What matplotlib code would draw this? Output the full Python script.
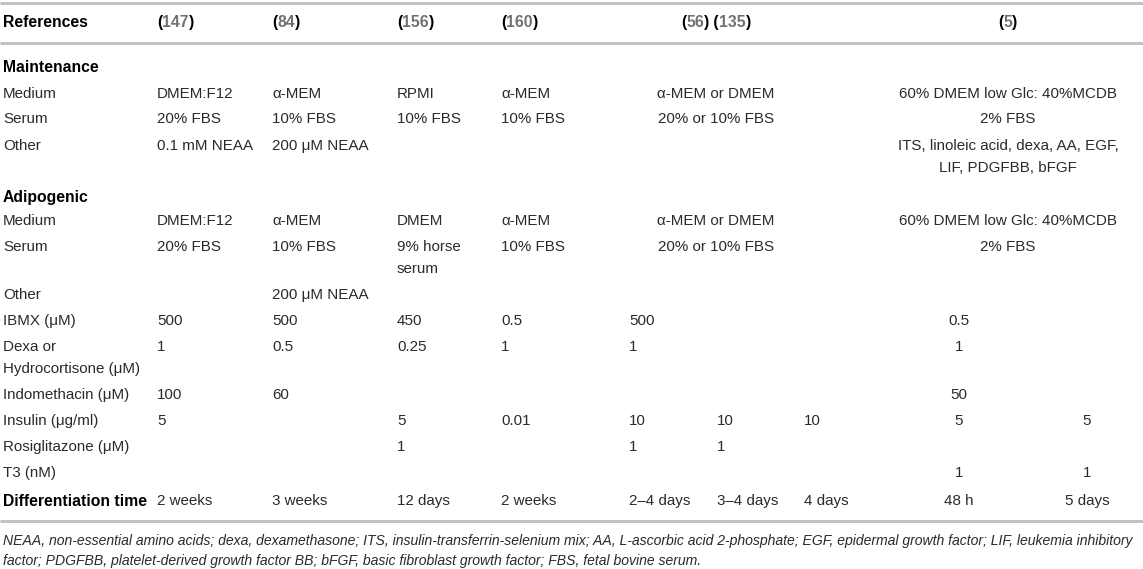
import matplotlib.pyplot as plt

# table content
refs = [["147"], ["84"], ["156"], ["160"], ["56", "135"], ["5"]]

maint_medium = ["DMEM:F12", "α-MEM", "RPMI", "α-MEM", "α-MEM or DMEM", "60% DMEM low Glc: 40%MCDB"]
maint_serum = ["20% FBS", "10% FBS", "10% FBS", "10% FBS", "20% or 10% FBS", "2% FBS"]
maint_other = ["0.1 mM NEAA", "200 μM NEAA", "", "", "", "ITS, linoleic acid, dexa, AA, EGF,\nLIF, PDGFBB, bFGF"]

adipo_medium = ["DMEM:F12", "α-MEM", "DMEM", "α-MEM", "α-MEM or DMEM", "60% DMEM low Glc: 40%MCDB"]
adipo_serum = ["20% FBS", "10% FBS", "9% horse\nserum", "10% FBS", "20% or 10% FBS", "2% FBS"]
adipo_other = ["", "200 μM NEAA", "", "", "", ""]

ibmx = ["500", "500", "450", "0.5", "500", "", "", "0.5", ""]
dexa = ["1", "0.5", "0.25", "1", "1", "", "", "1", ""]
indo = ["100", "60", "", "", "", "", "", "50", ""]
insulin = ["5", "", "5", "0.01", "10", "10", "10", "5", "5"]
rosi = ["", "", "1", "", "1", "1", "", "", ""]
t3 = ["", "", "", "", "", "", "", "1", "1"]
diff_time = ["2 weeks", "3 weeks", "12 days", "2 weeks", "2–4 days", "3–4 days", "4 days", "48 h", "5 days"]

footnote = ["NEAA, non-essential amino acids; dexa, dexamethasone; ITS, insulin-transferrin-selenium mix; "
            "AA, L-ascorbic acid 2-phosphate; EGF, epidermal growth factor; LIF, leukemia inhibitory",
            "factor; PDGFBB, platelet-derived growth factor BB; bFGF, basic fibroblast growth factor; "
            "FBS, fetal bovine serum."]

# layout (pixels)
W, H = 1143, 569
FS = 10.9
FSB = 11.3
TXT = "#2a2a2a"
REFC = "#707070"
LINEC = "#c2c2c2"
LX = 3
# 6 reference columns: (x, align)
gcols = [(157, "left"), (272, "left"), (397, "left"), (501, "left"), (716, "center"), (1008, "center")]
# 9 sub columns
scols = [(157, "left"), (272, "left"), (397, "left"), (501, "left"),
         (629, "left"), (717, "left"), (804, "left"), (959, "center"), (1087, "center")]
LH = 22

plt.rcParams["font.family"] = ["Liberation Sans", "DejaVu Sans"]
fig = plt.figure(figsize=(W / 100, H / 100), dpi=100)
ax = fig.add_axes([0, 0, 1, 1])
ax.set_xlim(0, W)
ax.set_ylim(H, 0)
ax.axis("off")


def cell(x, y, s, ha="left"):
    for i, part in enumerate(s.split("\n")):
        if part:
            ax.text(x, y + i * LH, part, ha=ha, va="center", fontsize=FS, color=TXT)


def row(y, label, vals, cols):
    cell(LX, y, label)
    for (x, ha), v in zip(cols, vals):
        cell(x, y, v, ha)


def bold(y, s):
    ax.text(LX, y, s, fontsize=FSB, fontweight="bold", color="black", va="center")


# rules
for y in [3, 43, 521]:
    ax.plot([0, W], [y, y], color=LINEC, lw=2.2, solid_capstyle="butt")

# header
bold(22, "References")


def ref_group(x, y, nums, ha):
    # "(n) (m)" with bold black brackets and grey numbers
    pieces = []
    for k, n in enumerate(nums):
        pieces.append((" (" if k else "(", "black"))
        pieces.append((n, REFC))
        pieces.append((")", "black"))
    t = ax.text(x, y, pieces[0][0], fontsize=FSB, fontweight="bold", color=pieces[0][1], va="center")
    arts = [t]
    for s, c in pieces[1:]:
        t = ax.annotate(s, xy=(1, 0), xycoords=t, va="bottom", ha="left",
                        fontsize=FSB, fontweight="bold", color=c)
        arts.append(t)
    if ha == "center":
        fig.canvas.draw()
        r = fig.canvas.get_renderer()
        x0 = arts[0].get_window_extent(r).x0
        x1 = arts[-1].get_window_extent(r).x1
        arts[0].set_x(x - (x1 - x0) / 2)


for (x, ha), nums in zip(gcols, refs):
    ref_group(x, 22, nums, ha)

bold(67, "Maintenance")
row(94, "Medium", maint_medium, gcols)
row(119, "Serum", maint_serum, gcols)
row(146, "Other", maint_other, gcols)

bold(197, "Adipogenic")
row(221, "Medium", adipo_medium, gcols)
row(247, "Serum", adipo_serum, gcols)
row(295, "Other", adipo_other, gcols)
row(321, "IBMX (μM)", ibmx, scols)
row(347, "Dexa or\nHydrocortisone (μM)", dexa, scols)
row(395, "Indomethacin (μM)", indo, scols)
row(421, "Insulin (μg/ml)", insulin, scols)
row(447, "Rosiglitazone (μM)", rosi, scols)
row(473, "T3 (nM)", t3, scols)

bold(501, "Differentiation time")
for (x, ha), v in zip(scols, diff_time):
    cell(x, 501, v, ha)

for i, line in enumerate(footnote):
    ax.text(LX, 541 + i * 20, line, fontsize=10.1, style="italic", color=TXT, va="center")

fig.savefig("out.png", dpi=100)
